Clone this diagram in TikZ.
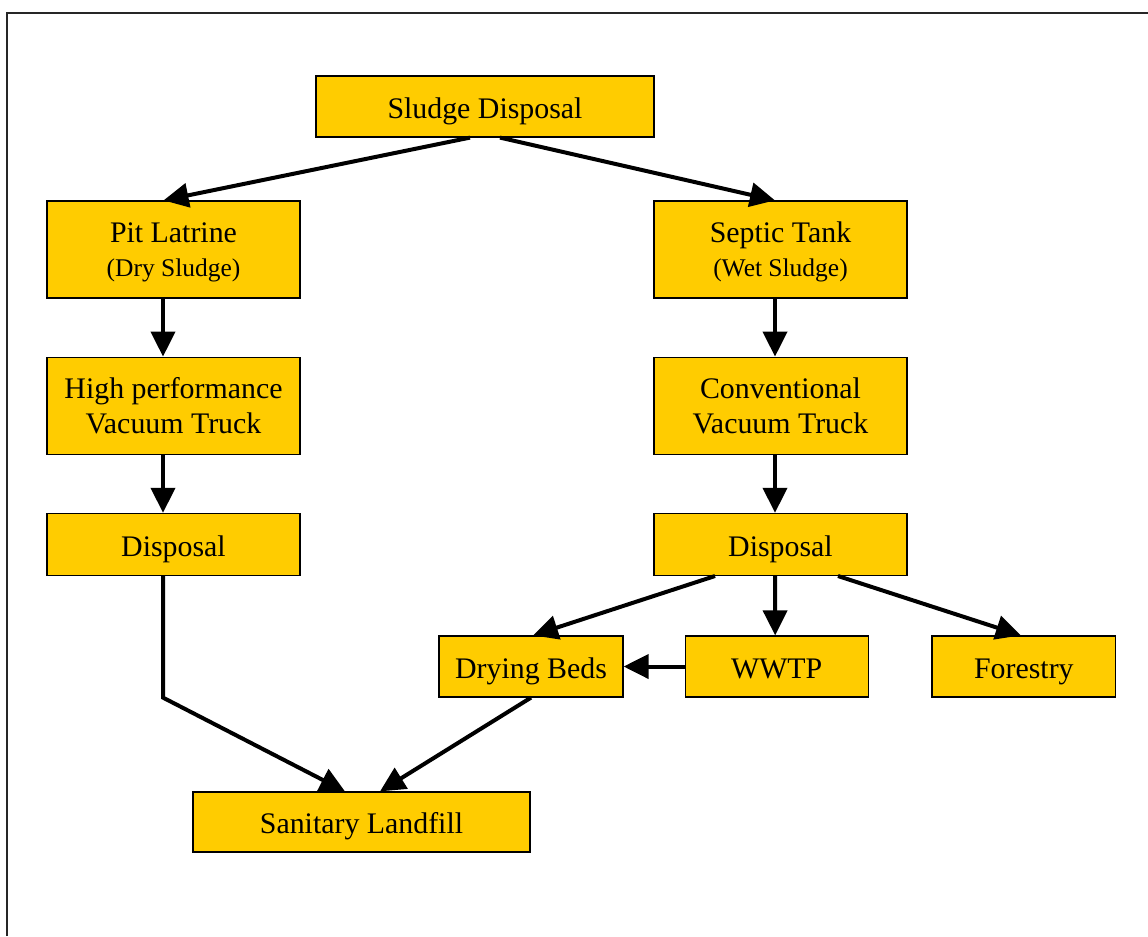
\documentclass[tikz,border=0pt]{standalone}
\usepackage{fontspec}
\setmainfont{Liberation Serif}
\usetikzlibrary{arrows.meta,positioning}
\definecolor{sludgegold}{RGB}{255,204,0}
\newcommand{\smallnote}[1]{{\fontsize{14.5}{17}\selectfont #1}}

\begin{document}
\begin{tikzpicture}[
  x=0.02cm, y=-0.02cm,
  node distance=1.16cm,
  stage/.style={draw=black, line width=0.7pt, fill=sludgegold, align=center, inner sep=0pt, minimum width=5.06cm, minimum height=1.94cm, font=\fontsize{17}{20}\selectfont},
  source/.style={stage, text height=33.7pt},
  flat/.style={stage, minimum height=1.24cm, text height=17pt, text depth=3.4pt},
  arr/.style={-{Triangle[length=0.5cm,width=0.48cm]}, line width=0.08cm}
]
\useasboundingbox (0,0) rectangle (1148,936);
\draw[line width=0.04cm, black!85] (7,936) -- (7,13) -- (1148,13);

\node[flat, minimum width=6.76cm, minimum height=1.22cm] (disp) at (485,106.5) {Sludge Disposal};
% dry branch
\node[source] (pit) at (173.5,249.5) {Pit Latrine\\[-1pt]\smallnote{(Dry Sludge)}};
\node[stage, below=of pit] (hpvt) {High performance\\Vacuum Truck};
\node[flat, below=of hpvt] (dispL) {Disposal};
% wet branch
\node[source] (septic) at (780.5,249.5) {Septic Tank\\[-1pt]\smallnote{(Wet Sludge)}};
\node[stage, below=of septic] (cvt) {Conventional\\Vacuum Truck};
\node[flat, below=of cvt] (dispR) {Disposal};
\node[flat, minimum width=3.68cm, minimum height=1.22cm] (beds) at (531,666.5) {Drying Beds};
\node[flat, minimum width=3.66cm, minimum height=1.22cm, right=1.22cm of beds] (wwtp) {WWTP};
\node[flat, minimum width=3.68cm, minimum height=1.22cm, right=1.25cm of wwtp] (forest) {Forestry};
\node[flat, minimum width=6.74cm, minimum height=1.2cm] (landfill) at (361.5,822) {Sanitary Landfill};

\draw[arr] ([xshift=-0.3cm]disp.south) -- ([xshift=-0.2cm]pit.north);
\draw[arr] ([xshift=0.3cm]disp.south) -- ([xshift=-0.11cm]septic.north);
\draw[arr] ([xshift=-0.21cm]pit.south) -- ([xshift=-0.21cm]hpvt.north);
\draw[arr] ([xshift=-0.21cm]hpvt.south) -- ([xshift=-0.21cm]dispL.north);
\draw[arr] ([xshift=-0.11cm]septic.south) -- ([xshift=-0.11cm]cvt.north);
\draw[arr] ([xshift=-0.11cm]cvt.south) -- ([xshift=-0.11cm]dispR.north);
\draw[arr] ([xshift=-1.31cm]dispR.south) -- ([xshift=0.04cm]beds.north);
\draw[arr] ([xshift=-0.11cm]dispR.south) -- ([xshift=-0.03cm]wwtp.north);
\draw[arr] ([xshift=1.15cm]dispR.south) -- ([xshift=-0.06cm]forest.north);
\draw[arr] (wwtp.west) -- (beds.east);
\draw[arr] ([xshift=-0.21cm]dispL.south) -- ([xshift=-0.21cm]dispL.south |- beds.south) -- ([xshift=-0.33cm]landfill.north);
\draw[arr] (beds.south) -- ([xshift=0.37cm]landfill.north);
\end{tikzpicture}
\end{document}
